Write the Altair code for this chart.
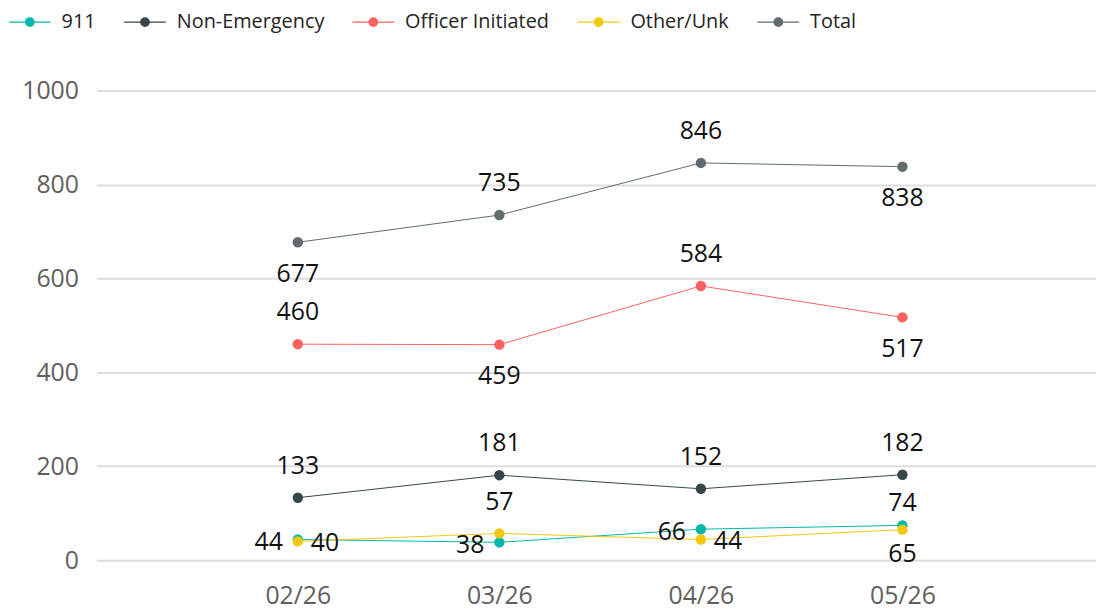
import altair as alt
import pandas as pd

months = ["02/26", "03/26", "04/26", "05/26"]
series_names = ["911", "Non-Emergency", "Officer Initiated", "Other/Unk", "Total"]
calls_911 = [44, 38, 66, 74]
non_emergency = [133, 181, 152, 182]
officer_initiated = [460, 459, 584, 517]
other_unk = [40, 57, 44, 65]
total = [677, 735, 846, 838]
series_colors = ["#01B8AA", "#374649", "#FD625E", "#F2C80F", "#5F6B6D"]
y_ticks = [0, 200, 400, 600, 800, 1000]

# where each data label sits relative to its point
place_911 = ["left", "left", "left", "above_near"]
place_non = ["above", "above", "above", "above"]
place_off = ["above", "below", "above", "below"]
place_oth = ["right", "above", "right", "below_near"]
place_tot = ["below", "above", "above", "below"]

series_values = [calls_911, non_emergency, officer_initiated, other_unk, total]
series_places = [place_911, place_non, place_off, place_oth, place_tot]

rows = []
for name, vals, places in zip(series_names, series_values, series_places):
    for m, v, p in zip(months, vals, places):
        rows.append({"month": m, "series": name, "value": v, "place": p})
df = pd.DataFrame(rows)

FONT = "Segoe UI, Open Sans, sans-serif"
legend_symbol = "M-1,0L1,0M0.2,0A0.2,0.2,0,1,1,-0.2,0A0.2,0.2,0,1,1,0.2,0Z"

x_enc = alt.X(
    "month:N",
    sort=months,
    scale=alt.Scale(type="point", domain=months, padding=0.98, align=0.51),
    axis=alt.Axis(title=None, labelFontSize=25, labelPadding=24, labelColor="#605E5C",
                  labelFont=FONT, domain=False, ticks=False, grid=False, labelAngle=0),
)
y_enc = alt.Y(
    "value:Q",
    scale=alt.Scale(domain=[0, 1000], nice=False),
    axis=alt.Axis(title=None, values=y_ticks, format="d", labelFontSize=25,
                  labelPadding=18, labelColor="#605E5C", labelFont=FONT, domain=False,
                  ticks=False, grid=True, gridColor="#DDDDDD", gridWidth=2),
)
color_enc = alt.Color(
    "series:N",
    sort=series_names,
    scale=alt.Scale(domain=series_names, range=series_colors),
    legend=alt.Legend(orient="none", legendX=-89, legendY=-91, direction="horizontal",
                      title=None, symbolType=legend_symbol, symbolSize=1764, padding=0,
                      symbolStrokeWidth=1.5, labelFontSize=20, labelFont=FONT,
                      labelOffset=10, columnPadding=25, labelColor="#252423"),
)

base = alt.Chart(df).encode(x=x_enc, y=y_enc, color=color_enc)

lines = base.mark_line(strokeWidth=1)
points = base.mark_point(filled=True, size=110, opacity=1)

text_base = alt.Chart(df).encode(x=x_enc, y=y_enc, text="value:Q")
tstyle = dict(fontSize=25, font=FONT, color="#111111", baseline="middle")

t_above = text_base.mark_text(dy=-32, align="center", **tstyle).transform_filter(alt.datum.place == "above")
t_below = text_base.mark_text(dy=32, align="center", **tstyle).transform_filter(alt.datum.place == "below")
t_above_n = text_base.mark_text(dy=-23, align="center", **tstyle).transform_filter(alt.datum.place == "above_near")
t_below_n = text_base.mark_text(dy=25, align="center", **tstyle).transform_filter(alt.datum.place == "below_near")
t_left = text_base.mark_text(dx=-15, dy=3, align="right", **tstyle).transform_filter(alt.datum.place == "left")
t_right = text_base.mark_text(dx=13, dy=2, align="left", **tstyle).transform_filter(alt.datum.place == "right")

chart = alt.layer(lines, points, t_above, t_below, t_above_n, t_below_n, t_left, t_right).properties(
    width=1007,
    height=473,
    autosize="none",
    padding={"left": 89, "top": 81, "right": 0, "bottom": 51},
    background="white",
).configure_view(stroke="transparent").configure_axis(domain=False)

chart.save("out.html", embed_options={"renderer": "svg", "actions": False})
